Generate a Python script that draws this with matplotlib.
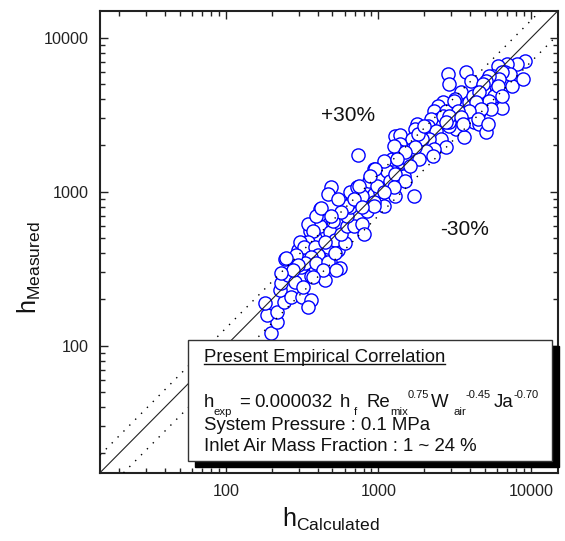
import matplotlib
matplotlib.use("Agg")
import matplotlib.pyplot as plt
from matplotlib.patches import Rectangle
from matplotlib.ticker import LogLocator, FixedLocator, FuncFormatter, NullFormatter
import numpy as np

plt.rcParams['font.family'] = ['Liberation Sans', 'DejaVu Sans']
plt.rcParams['mathtext.fontset'] = 'custom'
plt.rcParams['mathtext.rm'] = 'Liberation Sans'
plt.rcParams['mathtext.it'] = 'Liberation Sans:italic'

# calculated vs measured heat transfer coefficient
h_calc = [197, 218, 187, 182, 215, 242, 228, 231, 257, 245,
          285, 269, 316, 362, 346, 321, 362, 312, 298, 336,
          384, 445, 419, 480, 557, 401, 356, 384, 413, 413,
          346, 480, 466, 541, 517, 600, 566, 502, 583, 627,
          695, 627, 656, 784, 807, 845, 728, 675, 845, 937,
          1025, 1025, 1087, 980, 1087, 937, 1087, 1190, 487, 466,
          739, 413, 384, 389, 373, 346, 307, 326, 384, 445,
          401, 362, 330, 289, 249, 298, 277, 231, 389, 466,
          432, 373, 525, 517, 419, 656, 728, 784, 1025, 1226,
          1320, 1282, 1381, 1138, 870, 980, 1190, 1282, 937, 627,
          566, 1422, 1464, 541, 487, 2862, 2907, 3743, 4031, 3473,
          3176, 3915, 2655, 2466, 2323, 2779, 3743, 3225, 3634, 2907,
          2504, 2222, 2125, 1972, 1778, 1726, 2394, 2578, 2158, 1915,
          2779, 2323, 2063, 1650, 1650, 1381, 1360, 1464, 1087, 1831,
          2288, 1602, 9146, 8116, 6994, 6027, 6790, 7530, 8873, 5592,
          5193, 4891, 5677, 6489, 5193, 4678, 4151, 4544, 4215, 4544,
          5042, 2907, 2655, 1805, 1262, 1726, 1486, 1320, 951, 884,
          750, 695, 1282, 1486, 1699, 1262, 1087, 937, 784, 2002,
          7313, 6489, 6120, 5274, 5042, 6027, 6489, 4818, 4544, 3131,
          5274, 4344, 5430, 4678, 3915, 3322, 2907, 3473, 4474, 5193, 3577, 2779]
h_meas = [121, 143, 159, 190, 166, 193, 231, 256, 289, 368,
          260, 208, 208, 199, 179, 241, 285, 327, 422, 468,
          327, 268, 363, 352, 322, 403, 553, 633, 596, 713,
          614, 545, 441, 422, 490, 468, 529, 642, 746, 596,
          596, 692, 793, 614, 529, 746, 922, 867, 894, 964,
          993, 829, 805, 1155, 1208, 1403, 1513, 1403, 1071, 964,
          1732, 769, 505, 692, 553, 475, 475, 441, 441, 475,
          391, 380, 347, 391, 374, 337, 312, 298, 347, 352,
          312, 281, 312, 403, 781, 993, 1071, 935, 1264, 1631,
          1896, 2304, 2340, 1361, 1172, 1087, 1172, 935, 855, 805,
          735, 1559, 1264, 894, 692, 5848, 5034, 6027, 5264, 4465,
          4018, 3841, 3841, 3617, 3354, 3354, 2885, 2560, 2271, 2678,
          2975, 2975, 2678, 2483, 2760, 2560, 2483, 2203, 2203, 2203,
          1955, 1896, 1839, 2203, 1896, 2044, 1839, 1682, 1582, 1631,
          1706, 1468, 7110, 6800, 6800, 6594, 6027, 4885, 5427, 5677,
          5034, 4530, 4203, 3510, 3617, 3897, 4203, 3306, 2844, 2760,
          2447, 2844, 3113, 2375, 1983, 1955, 1813, 1631, 1403, 1264,
          1087, 894, 1301, 1172, 935, 1071, 993, 805, 793, 2678,
          5848, 6027, 5427, 5677, 5264, 4885, 4203, 5034, 4465, 3897,
          3897, 3841, 3458, 3458, 3354, 3354, 3113, 3067, 2975, 2760, 2760, 2844]

lim = [15, 15000]
band = 0.30

fig = plt.figure(figsize=(5.65, 5.41), dpi=100)
ax = fig.add_axes([100/565, 68.3/541, 458/565, 462/541])

ax.scatter(h_calc, h_meas, s=90, facecolors='white', edgecolors='#0000ff',
           linewidths=1.0, zorder=2)

xx = np.array(lim)
ax.plot(xx, xx, color='#222222', lw=0.8, zorder=3)
ax.plot(xx, xx * (1 + band), color='black', lw=1.0, ls=(0, (1, 5)), zorder=3)
ax.plot(xx, xx * (1 - band), color='black', lw=1.0, ls=(0, (1, 5)), zorder=3)

ax.set_xscale('log')
ax.set_yscale('log')
ax.set_xlim(lim)
ax.set_ylim(lim)

fmt = FuncFormatter(lambda v, p: '%d' % v)
for axis in (ax.xaxis, ax.yaxis):
    axis.set_major_locator(FixedLocator([100, 1000, 10000]))
    axis.set_minor_locator(LogLocator(base=10, subs=np.arange(2, 10)))
    axis.set_major_formatter(fmt)
    axis.set_minor_formatter(NullFormatter())

ax.tick_params(which='both', direction='in', top=True, right=True,
               color='#222222', labelsize=11.6, labelcolor='#222222')
ax.tick_params(which='major', length=6, width=1.0, pad=8)
ax.tick_params(which='minor', length=3.6, width=1.0)
for sp in ax.spines.values():
    sp.set_linewidth(1.5)
    sp.set_color('#222222')

fig.text(331/565, 1 - 519/541, r'$\mathregular{h_{Calculated}}$', fontsize=18,
         ha='center', va='center', color='#111111')
fig.text(29/565, 1 - 268/541, r'$\mathregular{h_{Measured}}$', fontsize=18,
         ha='center', va='center', rotation=90, color='#111111')

ax.text(0.5415, 0.7742, '+30%', transform=ax.transAxes, fontsize=15,
        ha='center', va='center', color='#111111')
ax.text(0.797, 0.5271, '-30%', transform=ax.transAxes, fontsize=15,
        ha='center', va='center', color='#111111')

# correlation box with drop shadow
bx, by, bw, bh = 0.1921, 0.0253, 0.7948, 0.2619
ax.add_patch(Rectangle((bx + 0.0153, by - 0.013), bw, bh, transform=ax.transAxes,
                       facecolor='black', edgecolor='black', zorder=5, clip_on=False))
ax.add_patch(Rectangle((bx, by), bw, bh, transform=ax.transAxes,
                       facecolor='white', edgecolor='#333333', lw=1.0, zorder=6,
                       clip_on=False))

def px2ax(px):
    return (px - 100) / 458

tx = px2ax(204)
kw = dict(transform=ax.transAxes, va='baseline', ha='left', zorder=7, color='#111111')
title = ax.text(tx, 0.2396, 'Present Empirical Correlation', fontsize=13.4, **kw)

# correlation formula, piece by piece (main / subscript / superscript)
base = {'main': (0.1418, 13.4), 'sub': (0.1249, 8.2), 'sup': (0.1617, 8.0)}
formula = [('h', 204, 'main'), ('exp', 213, 'sub'), ('=', 239, 'main'),
           ('0.000032', 254, 'main'), ('h', 340, 'main'), ('f', 354, 'sub'),
           ('Re', 367, 'main'), ('mix', 390, 'sub'), ('0.75', 408, 'sup'),
           ('W', 431, 'main'), ('air', 453, 'sub'), ('-0.45', 466, 'sup'),
           ('Ja', 494, 'main'), ('-0.70', 514, 'sup')]
for s, px, kind in formula:
    y, fs = base[kind]
    ax.text(px2ax(px), y, s, fontsize=fs, **kw)

ax.text(tx, 0.0916, 'System Pressure : 0.1 MPa', fontsize=13.4, **kw)
ax.text(tx, 0.0476, 'Inlet Air Mass Fraction : 1 ~ 24 %', fontsize=13.4, **kw)

# underline the box title
fig.canvas.draw()
bb = title.get_window_extent().transformed(ax.transAxes.inverted())
ax.plot([bb.x0, bb.x1], [0.2355, 0.2355], transform=ax.transAxes, color='#111111',
        lw=1.0, zorder=7, clip_on=False)

fig.savefig('out.png', dpi=100)
